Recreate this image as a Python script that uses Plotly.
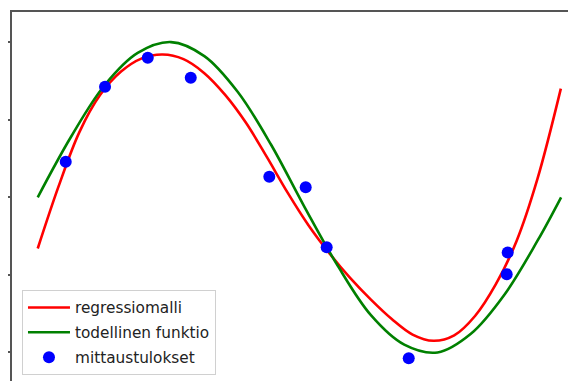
import plotly.graph_objects as go

# measured points (mittaustulokset)
pts_x = [0.336, 0.808, 1.321, 1.837, 2.780, 3.217, 3.469, 4.454, 5.642, 5.630]
pts_y = [0.229, 0.713, 0.899, 0.771, 0.133, 0.064, -0.322, -1.037, -0.356, -0.496]

# regression model curve
red_x = [0.0, 0.25, 0.5, 0.75, 1.0, 1.25, 1.5, 1.75, 2.0, 2.25, 2.5, 2.75, 3.0, 3.25, 3.5,
         3.75, 4.0, 4.25, 4.5, 4.75, 5.0, 5.25, 5.5, 5.75, 6.0, 6.28]
red_y = [-0.33, 0.07, 0.42, 0.66, 0.81, 0.895, 0.92, 0.89, 0.80, 0.66, 0.48, 0.26, 0.03, -0.18, -0.36,
         -0.52, -0.66, -0.785, -0.885, -0.925, -0.89, -0.765, -0.56, -0.28, 0.12, 0.70]

# true function curve
green_x = [0.0, 0.4, 0.8, 1.2, 1.6, 2.0, 2.4, 2.8, 3.2, 3.6, 4.0, 4.4, 4.8, 5.2, 5.6, 6.0, 6.283]
green_y = [0.0, 0.39, 0.72, 0.93, 1.0, 0.91, 0.68, 0.34, -0.06, -0.44, -0.76, -0.95, -1.0, -0.88, -0.63, -0.28, 0.0]

names = ["regressiomalli", "todellinen funktio", "mittaustulokset"]

fig = go.Figure()
fig.add_trace(go.Scatter(x=red_x, y=red_y, mode="lines", name=names[0],
                         line=dict(color="#ff0000", width=2.6, shape="spline", smoothing=1.0),
                         legendgroup="a"))
fig.add_trace(go.Scatter(x=green_x, y=green_y, mode="lines", name=names[1],
                         line=dict(color="#008000", width=2.6, shape="spline", smoothing=1.0),
                         legendgroup="b"))
fig.add_trace(go.Scatter(x=pts_x, y=pts_y, mode="markers", name=names[2],
                         marker=dict(color="#0000ff", size=12),
                         legendgroup="c"))

# page body has an 8px margin, so the figure is offset by 8px
fig.update_layout(
    width=568, height=373,
    margin=dict(l=4, r=0, t=4, b=0),
    paper_bgcolor="white", plot_bgcolor="white",
    font=dict(family="DejaVu Sans", size=15.3, color="#222222"),
    legend=dict(x=0.0177, y=0.0163, xanchor="left", yanchor="bottom",
                bgcolor="rgba(255,255,255,0.85)", bordercolor="#d0d0d0", borderwidth=1,
                traceorder="grouped", tracegroupgap=2, itemwidth=42,
                font=dict(family="DejaVu Sans", size=15.3, color="#222222")),
    showlegend=True,
)
fig.update_xaxes(range=[-0.309, 6.462], side="top", showline=True, linecolor="#555555",
                 linewidth=1.5, ticks="", showticklabels=False, showgrid=False, zeroline=False)
fig.update_yaxes(range=[-1.184, 1.194], showline=True, linecolor="#555555", linewidth=1.5,
                 ticks="outside", ticklen=5, tickwidth=1.5, tickcolor="#555555",
                 tickvals=[-1, -0.5, 0, 0.5, 1], showticklabels=False,
                 showgrid=False, zeroline=False)

fig.write_html("out.html")
